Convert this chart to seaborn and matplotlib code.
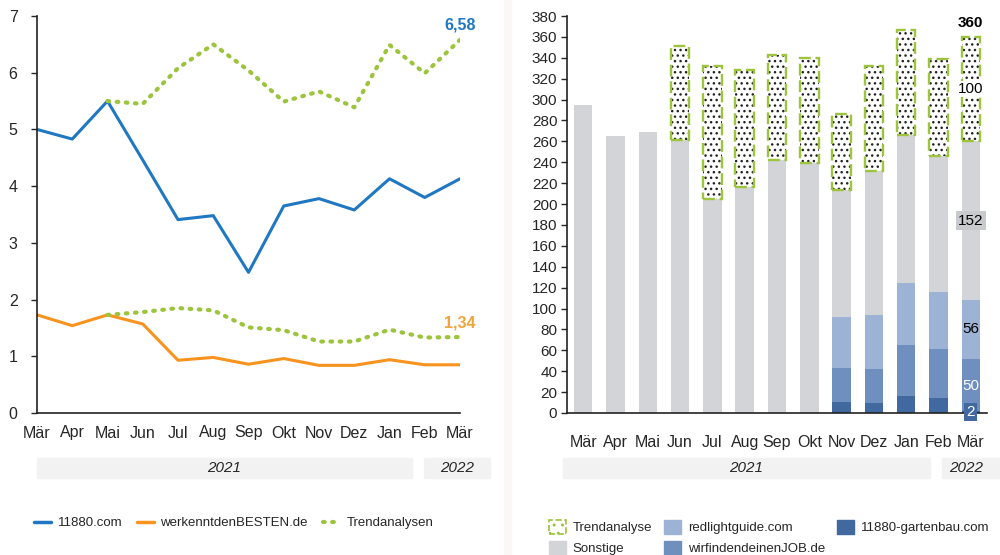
import numpy as np
import pandas as pd
import matplotlib
matplotlib.use("Agg")
import matplotlib.pyplot as plt
from matplotlib.patches import Rectangle
from matplotlib.lines import Line2D
from matplotlib.patches import Patch
import seaborn as sns

# --- data ---
months = ["Mär", "Apr", "Mai", "Jun", "Jul", "Aug", "Sep", "Okt", "Nov", "Dez", "Jan", "Feb", "Mär"]

# left chart
s11880 = [5.00, 4.83, 5.50, 4.46, 3.41, 3.48, 2.48, 3.65, 3.78, 3.58, 4.13, 3.80, 4.13]
s_wkdb = [1.73, 1.54, 1.73, 1.57, 0.93, 0.98, 0.86, 0.96, 0.84, 0.84, 0.94, 0.85, 0.85]
trend_up = [np.nan, np.nan, 5.50, 5.45, 6.08, 6.50, 6.04, 5.49, 5.67, 5.39, 6.49, 5.99, 6.58]
trend_lo = [np.nan, np.nan, 1.73, 1.78, 1.85, 1.81, 1.51, 1.46, 1.26, 1.26, 1.47, 1.33, 1.34]

# right chart (stack segments)
gartenbau = [0, 0, 0, 0, 0, 0, 0, 0, 11, 10, 16, 14, 2]
wirfinden = [0, 0, 0, 0, 0, 0, 0, 0, 32, 32, 49, 47, 50]
redlight = [0, 0, 0, 0, 0, 0, 0, 0, 49, 52, 59, 55, 56]
sonstige = [295, 265, 269, 261, 205, 216, 242, 239, 121, 138, 142, 130, 152]
trendanalyse = [0, 0, 0, 90, 127, 112, 101, 101, 73, 100, 101, 93, 100]

C_BLUE = "#1f78c1"
C_ORANGE = "#f7931e"
C_GREEN = "#9cc43c"
C_GRAY = "#d3d4d8"
C_LIGHT = "#9db3d6"
C_MID = "#6f8fbf"
C_DARK = "#41689f"

sns.set_theme(style="white")
plt.rcParams["font.family"] = ["Liberation Sans", "DejaVu Sans"]

fig = plt.figure(figsize=(10, 5.55), dpi=100)
W, H = 1000, 555


def px_axes(x0, y0, x1, y1):
    return fig.add_axes([x0 / W, 1 - y1 / H, (x1 - x0) / W, (y1 - y0) / H])


dotted = (0, (0.4, 1.8))

# ---------------- left chart ----------------
ax1 = px_axes(37, 16, 460, 413)
idx = np.arange(len(months))
df_l = pd.DataFrame({"x": idx, "a": s11880, "b": s_wkdb, "tu": trend_up, "tl": trend_lo})
sns.lineplot(data=df_l, x="x", y="a", ax=ax1, color=C_BLUE, lw=2.2)
sns.lineplot(data=df_l, x="x", y="b", ax=ax1, color=C_ORANGE, lw=2.2)
for col in ["tu", "tl"]:
    sns.lineplot(data=df_l, x="x", y=col, ax=ax1, color=C_GREEN, lw=3,
                 linestyle=dotted, dash_capstyle="round")
ax1.set_xlim(0, 12)
ax1.set_ylim(0, 7)
ax1.set_yticks(range(8))
ax1.set_xticks(idx)
ax1.set_xticklabels(months)
ax1.set_xlabel("")
ax1.set_ylabel("")
for sp in ["top", "right"]:
    ax1.spines[sp].set_visible(False)
for sp in ["left", "bottom"]:
    ax1.spines[sp].set_color("#222222")
    ax1.spines[sp].set_linewidth(1.2)
ax1.tick_params(axis="y", left=True, length=4, width=1, labelsize=11.5, pad=10)
ax1.tick_params(axis="x", bottom=False, labelsize=11.5, pad=3)
ax1.text(12, 6.84, "6,58", color=C_BLUE, fontsize=11.5, fontweight="bold", ha="center", va="center")
ax1.text(12, 1.59, "1,34", color="#f2a43a", fontsize=11.5, fontweight="bold", ha="center", va="center")

# ---------------- right chart ----------------
ax2 = px_axes(567, 16, 987, 413)
tot_red = np.array(gartenbau) + np.array(wirfinden) + np.array(redlight)
tot_all = tot_red + np.array(sonstige)
tot_wir = np.array(gartenbau) + np.array(wirfinden)
df_r = pd.DataFrame({"x": idx, "all": tot_all, "red": tot_red, "wir": tot_wir, "gb": gartenbau})
bw = 0.57
for col, c in [("all", C_GRAY), ("red", C_LIGHT), ("wir", C_MID), ("gb", C_DARK)]:
    sns.barplot(data=df_r, x="x", y=col, ax=ax2, color=c, saturation=1, width=bw, linewidth=0)

tr = np.array(trendanalyse)
m = tr > 0
ax2.bar(idx[m], tr[m], bottom=tot_all[m], width=bw, color="white", edgecolor="#222222",
        hatch="...", linewidth=0)
ax2.bar(idx[m], tr[m], bottom=tot_all[m], width=bw, facecolor="none", edgecolor=C_GREEN,
        linewidth=1.7, linestyle=(0, (5, 2)))

ax2.set_xlim(-0.5, 12.5)
ax2.set_ylim(0, 380)
ax2.set_yticks(range(0, 381, 20))
ax2.set_xticks(idx)
ax2.set_xticklabels(months)
ax2.set_xlabel("")
ax2.set_ylabel("")
for sp in ["top", "right"]:
    ax2.spines[sp].set_visible(False)
for sp in ["left", "bottom"]:
    ax2.spines[sp].set_color("#222222")
    ax2.spines[sp].set_linewidth(1.2)
ax2.tick_params(axis="y", left=True, length=4, width=1, labelsize=11, pad=3)
ax2.tick_params(axis="x", bottom=False, labelsize=11.5, pad=10)

xl = 12
ax2.text(xl, 373, "360", fontsize=11, fontweight="bold", ha="center", va="center", color="black")
ax2.text(xl, 310, "100", fontsize=11, ha="center", va="center", color="black",
         bbox=dict(boxstyle="square,pad=0.05", fc="white", ec="none"))
ax2.text(xl, 184, "152", fontsize=11, ha="center", va="center", color="black",
         bbox=dict(boxstyle="square,pad=0.15", fc="#c9cacd", ec="none"))
ax2.text(xl, 80, "56", fontsize=11, ha="center", va="center", color="black")
ax2.text(xl, 26, "50", fontsize=11, ha="center", va="center", color="white")
ax2.text(xl, 1, "2", fontsize=11, ha="center", va="center", color="white",
         bbox=dict(boxstyle="square,pad=0.15", fc=C_DARK, ec="none"), zorder=5, clip_on=False)

# ---------------- year bands ----------------
band = "#f2f2f2"
for x0, x1, label in [(37, 412, "2021"), (424, 490, "2022"), (563, 930, "2021"), (942, 1010, "2022")]:
    fig.patches.append(Rectangle((x0 / W, 1 - 478 / H), (x1 - x0) / W, 20 / H,
                                 transform=fig.transFigure, color=band, zorder=0))
    cx = (x0 + min(x1, 990)) / 2
    fig.text(cx / W, 1 - 468 / H, label, ha="center", va="center", fontsize=11, style="italic")

# faint divider
fig.add_artist(Line2D([508 / W, 508 / W], [0, 1], transform=fig.transFigure, color="#fcf7f7", lw=6))

# ---------------- legends ----------------
h_left = [Line2D([], [], color=C_BLUE, lw=2.5),
          Line2D([], [], color=C_ORANGE, lw=2.5),
          Line2D([], [], color=C_GREEN, lw=3, linestyle=dotted, dash_capstyle="round")]
fig.legend(h_left, ["11880.com", "werkenntdenBESTEN.de", "Trendanalysen"],
           loc="center left", bbox_to_anchor=(22 / W, 1 - 523 / H), ncol=3, frameon=False,
           fontsize=9.5, handlelength=1.3, handletextpad=0.5, columnspacing=1.1)

h_right = [Patch(facecolor="white", edgecolor=C_GREEN, hatch="..", linestyle="--", linewidth=1.2),
           Patch(color=C_GRAY),
           Patch(color=C_LIGHT),
           Patch(color=C_MID),
           Patch(color=C_DARK)]
fig.legend(h_right, ["Trendanalyse", "Sonstige", "redlightguide.com", "wirfindendeinenJOB.de",
                     "11880-gartenbau.com"],
           loc="center left", bbox_to_anchor=(537 / W, 1 - 537.5 / H), ncol=3, frameon=False,
           fontsize=9.5, handlelength=1.3, handleheight=1.3, handletextpad=0.5,
           columnspacing=0.9, labelspacing=0.5)

fig.savefig("out.png", dpi=100)
